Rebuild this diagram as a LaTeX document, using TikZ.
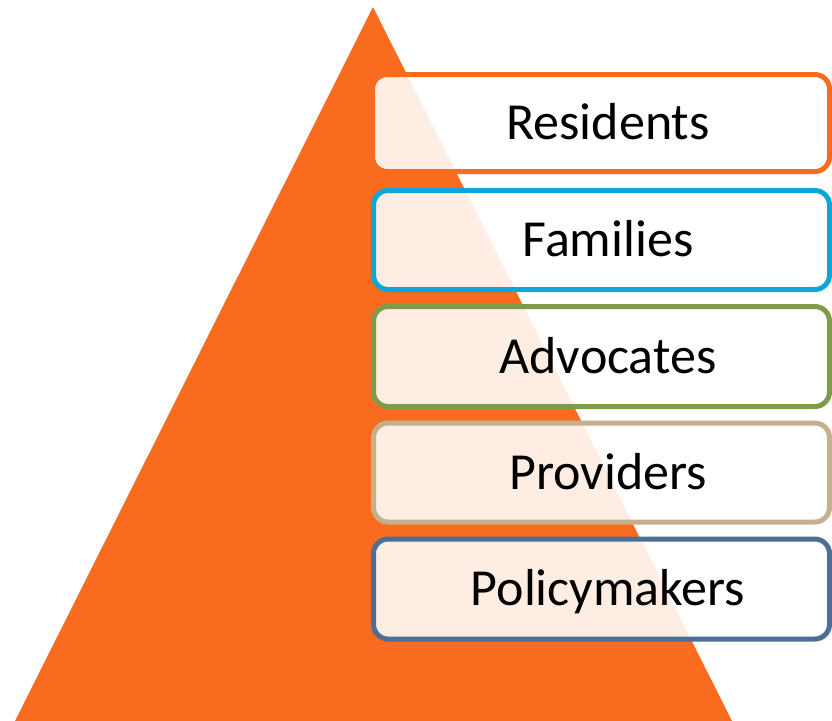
\documentclass[tikz,border=0pt]{standalone}
\usepackage{fontspec}
\setmainfont{Carlito}
\definecolor{triorange}{RGB}{249,107,30}
\definecolor{cblue}{RGB}{14,165,219}
\definecolor{cgreen}{RGB}{127,154,72}
\definecolor{ctan}{RGB}{196,176,141}
\definecolor{cnavy}{RGB}{79,110,150}
\tikzset{
  tierbox/.style={draw, line width=3.75pt, rounded corners=11pt, fill=white, fill opacity=0.88},
  tiertext/.style={font=\fontsize{39}{39}\selectfont, text height=25pt, text depth=0pt, inner sep=0pt, text=black}
}
\begin{document}
\begin{tikzpicture}[x=0.75pt,y=-0.75pt]
\useasboundingbox (0,0) rectangle (832,721);
\coordinate (apex) at (373,7);
\coordinate (bl) at (15,721);
\coordinate (br) at (732,721);
\fill[triorange] (apex) -- (br) -- (bl) -- cycle;
% tier boxes
\draw[tierbox, draw=triorange] (372.5,74.5) rectangle (829.5,171.5);
\draw[tierbox, draw=cblue]     (373.5,190.5) rectangle (829.5,289.5);
\draw[tierbox, draw=cgreen]    (373.5,306.5) rectangle (829.5,406.5);
\draw[tierbox, draw=ctan]      (373.5,423) rectangle (829.5,522);
\draw[tierbox, draw=cnavy]     (373.5,539) rectangle (829.5,639);
% labels
\node[tiertext] (tres) at (608,123) {Residents};
\node[tiertext] (tfam) at (608,239.5) {Families};
\node[tiertext] (tadv) at (608,356.5) {Advocates};
\node[tiertext] (tpro) at (608,472.5) {Providers};
\node[tiertext] (tpol) at (608,589) {Policymakers};
\end{tikzpicture}
\end{document}
